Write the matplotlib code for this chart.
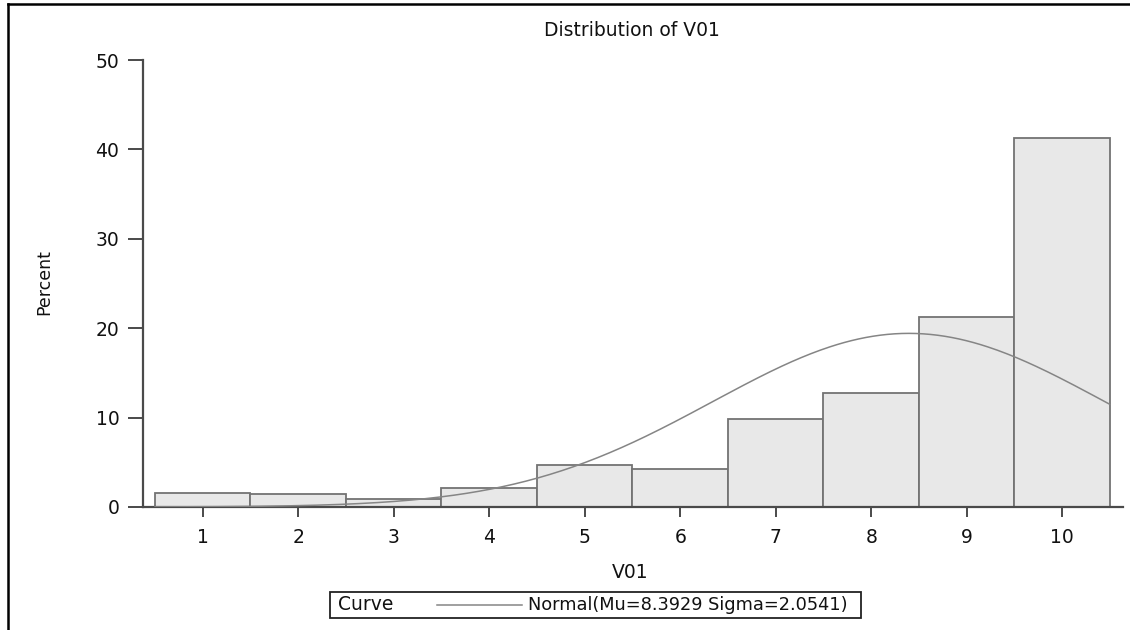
import numpy as np
import matplotlib
matplotlib.use("Agg")
import matplotlib.pyplot as plt
from matplotlib.patches import Rectangle
from matplotlib.lines import Line2D

# ---- data ----
categories = [1, 2, 3, 4, 5, 6, 7, 8, 9, 10]
percents = [1.55, 1.4, 0.85, 2.15, 4.7, 4.3, 9.8, 12.8, 21.25, 41.3]
mu = 8.3929
sigma = 2.0541
yticks = [0, 10, 20, 30, 40, 50]
title = "Distribution of V01"
xlabel = "V01"
ylabel = "Percent"
legend_title = "Curve"
legend_label = "Normal(Mu=8.3929 Sigma=2.0541)"

plt.rcParams['font.family'] = ['DejaVu Sans']

W, H = 1130, 630
fig = plt.figure(figsize=(W / 100, H / 100), dpi=100)

def fx(px):
    return px / W

def fy(py):
    return 1 - py / H

ax = fig.add_axes([fx(143.3), fy(507), fx(1122.7 - 143.3), (507 - 60) / H])

axis_col = "#4a4a4a"
bar_face = "#e8e8e8"
bar_edge = "#737373"
curve_col = "#858585"

ax.bar(categories, percents, width=1.0, align="center",
       facecolor=bar_face, edgecolor=bar_edge, linewidth=1.3, zorder=2)

xs = np.linspace(categories[0] - 0.5, categories[-1] + 0.5, 400)
binw = 1.0
ys = 100 * binw / (sigma * np.sqrt(2 * np.pi)) * np.exp(-0.5 * ((xs - mu) / sigma) ** 2)
ax.plot(xs, ys, color=curve_col, linewidth=1.1, zorder=3)

ax.set_xlim(0.3775, 10.633)
ax.set_ylim(0, 50)
ax.set_xticks(categories)
ax.set_yticks(yticks)

for s in ["top", "right"]:
    ax.spines[s].set_visible(False)
for s in ["left", "bottom"]:
    ax.spines[s].set_color(axis_col)
    ax.spines[s].set_linewidth(1.6)

ax.tick_params(axis="x", direction="out", length=7.2, width=1.4, color=axis_col,
               pad=8, labelsize=13.5, labelcolor="#111111")
ax.tick_params(axis="y", direction="out", length=10.8, width=1.4, color=axis_col,
               pad=6.5, labelsize=13.5, labelcolor="#111111")

# title and axis labels
fig.text(fx(631.5), fy(31), title, ha="center", va="center", fontsize=13.5, color="#111111")
fig.text(fx(630), fy(572), xlabel, ha="center", va="center", fontsize=13.5, color="#111111")
fig.text(fx(44), fy(282), ylabel, ha="center", va="center", rotation=90, fontsize=12.5,
         color="#111111")

# legend box
box = Rectangle((fx(330), fy(618)), fx(861 - 330), (618 - 592) / H,
                transform=fig.transFigure, facecolor="white", edgecolor="#222222",
                linewidth=1.3)
fig.patches.append(box)
fig.text(fx(338), fy(605), legend_title, ha="left", va="center", fontsize=13.5,
         color="#111111")
fig.add_artist(Line2D([fx(437), fx(522)], [fy(604.5), fy(604.5)],
                      transform=fig.transFigure, color=curve_col, linewidth=1.1))
fig.text(fx(528), fy(605), legend_label, ha="left", va="center", fontsize=12.8,
         color="#111111")

# outer frame lines (top and left)
fig.add_artist(Line2D([fx(8), fx(1130)], [fy(3.5), fy(3.5)], transform=fig.transFigure,
                      color="black", linewidth=1.8))
fig.add_artist(Line2D([fx(8), fx(8)], [fy(3.5), fy(630)], transform=fig.transFigure,
                      color="black", linewidth=1.8))

fig.savefig("out.png", dpi=100)
